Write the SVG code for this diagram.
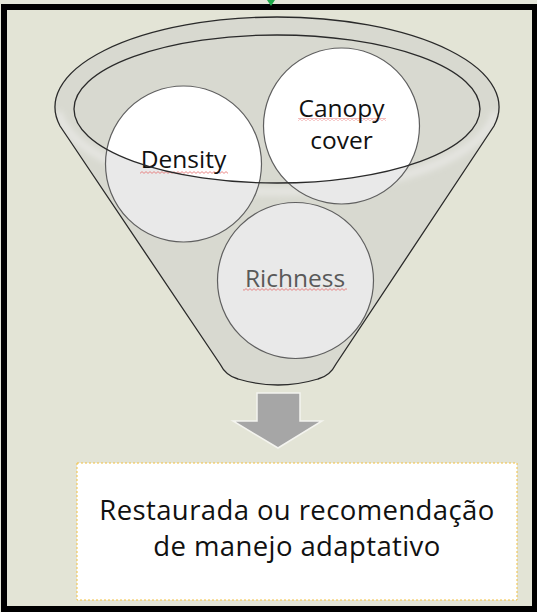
<svg xmlns="http://www.w3.org/2000/svg" width="537" height="612" viewBox="0 0 537 612">
<style>
.circ{stroke:#5f5f5f;stroke-width:1.2}
.lbl{font-family:"Open Sans","Noto Sans","Liberation Sans",sans-serif;font-size:24.5px;text-anchor:middle}
.box{font-family:"Open Sans","Noto Sans","Liberation Sans",sans-serif;font-size:27.5px;letter-spacing:0.4px;text-anchor:middle;fill:#111}
</style>
<defs>
<pattern id="sq" width="4" height="3" patternUnits="userSpaceOnUse"><path d="M0 2.4 L2 0.6 L4 2.4" fill="none" stroke="#e46a6a" stroke-width="0.8"/></pattern>
<clipPath id="inner"><ellipse cx="277" cy="109" rx="203" ry="74"/></clipPath>
<clipPath id="fun"><path d="M60 126 L220 364 Q226 376 238 379 Q278 391 318 379 Q330 376 336 364 L494 126 A222 90 0 1 0 60 126 Z"/></clipPath>
<filter id="bl"><feGaussianBlur stdDeviation="3"/></filter>
</defs>
<rect x="0" y="0" width="537" height="612" fill="#e4e6d9"/>
<rect x="4" y="7" width="531" height="602" fill="#e3e4d6" stroke="#000" stroke-width="6"/>
<polygon points="267,0 275,0 271,6" fill="#1faa4a"/>
<g id="funnel">
<path d="M60 126 L220 364 Q226 376 238 379 Q278 391 318 379 Q330 376 336 364 L494 126 A222 90 0 1 0 60 126 Z" fill="#d8d9d0"/>
<g clip-path="url(#fun)"><path d="M58 112 A220 88 0 0 0 496 112" fill="none" stroke="#e6e6e2" stroke-width="8" filter="url(#bl)"/></g>
<path d="M60 126 L220 364 Q226 376 238 379 Q278 391 318 379 Q330 376 336 364 L494 126 A222 90 0 1 0 60 126 Z" fill="none" stroke="#2a2a2a" stroke-width="1.3"/>
</g>
<g id="density">
<circle cx="183.5" cy="164" r="78" fill="#e9e9e9"/>
<circle cx="183.5" cy="164" r="78" fill="#fff" clip-path="url(#inner)"/>
<circle class="circ" cx="183.5" cy="164" r="78" fill="none"/>
<rect x="140" y="171" width="88" height="3" fill="url(#sq)"/>
<text class="lbl" x="183.5" y="168" fill="#111">Density</text>
</g>
<g id="canopy">
<circle cx="341.5" cy="126" r="78" fill="#e9e9e9"/>
<circle cx="341.5" cy="126" r="78" fill="#fff" clip-path="url(#inner)"/>
<circle class="circ" cx="341.5" cy="126" r="78" fill="none"/>
<rect x="298" y="118" width="88" height="3" fill="url(#sq)"/>
<text class="lbl" x="341.5" y="117" fill="#111">Canopy</text>
<text class="lbl" x="341.5" y="149" fill="#111">cover</text>
</g>
<ellipse id="rim" cx="277" cy="109" rx="203" ry="74" fill="none" stroke="#2a2a2a" stroke-width="1.3"/>
<g id="richness">
<circle class="circ" cx="295.5" cy="280.5" r="78" fill="#e9e9e9"/>
<rect x="243" y="288" width="104" height="3" fill="url(#sq)"/>
<text class="lbl" x="295" y="287" fill="#595959">Richness</text>
</g>
<g id="connectors">
<polygon points="257,393 300,393 300,421 322,421 278,448 233,421 257,421" fill="#a6a6a6" stroke="#f4f4ef" stroke-width="1.5"/>
</g>
<g id="result">
<rect x="77" y="463" width="440" height="137" fill="#fff" stroke="#f2c040" stroke-width="1" stroke-dasharray="2 2"/>
<text class="box" x="297" y="520">Restaurada ou recomendação</text>
<text class="box" x="297" y="556">de manejo adaptativo</text>
</g>
</svg>
